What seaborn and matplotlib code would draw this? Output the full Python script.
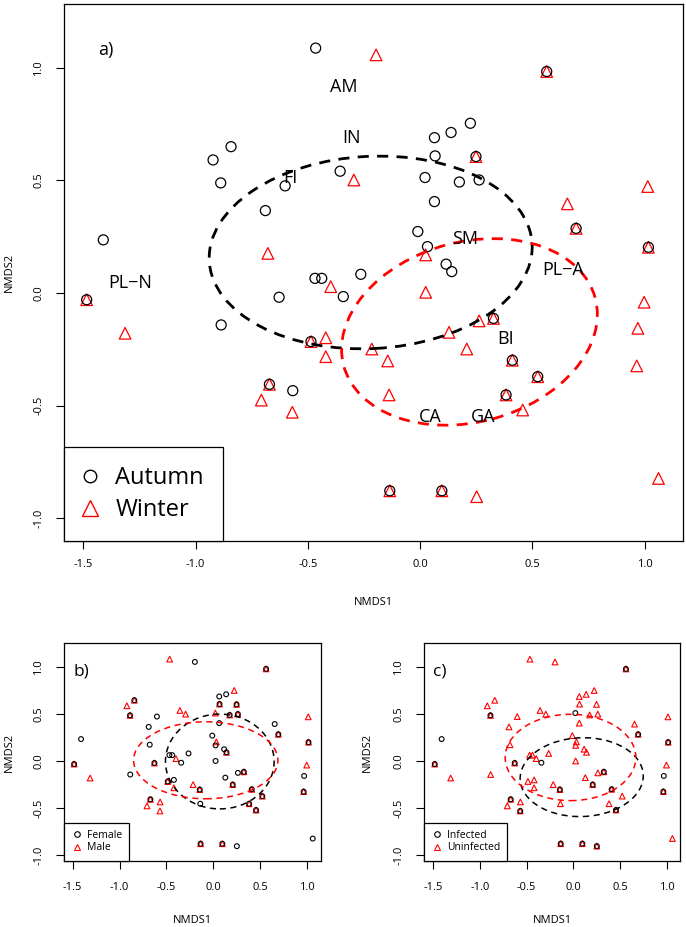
import numpy as np
import pandas as pd
import matplotlib
matplotlib.use("Agg")
import matplotlib.pyplot as plt
from matplotlib.patches import Ellipse
from matplotlib.lines import Line2D
import seaborn as sns

# NMDS site scores, one entry per individual
nmds1 = [-0.465, -0.196, 0.564, 0.224, 0.138, 0.064, -0.842, -0.922, 0.067, 0.249,
         -0.356, 0.022, -0.295, 0.175, 0.263, -0.888, -0.601, 1.014, 0.064, 0.656,
         -0.689, 0.695, -0.010, -1.411, 1.017, 0.033, -0.678, 0.025, 0.116, 0.141,
         -0.264, -0.468, -0.438, -0.398, 0.025, -1.485, -0.628, -0.342, 0.998, 0.327,
         0.263, -0.886, 0.970, 0.129, -1.314, -0.420, -0.486, -0.215, 0.208, -0.420,
         -0.144, 0.411, 0.965, 0.524, -0.671, -0.567, -0.138, 0.383, -0.707, 0.457,
         -0.569, 1.062, -0.135, 0.097, 0.252]
nmds2 = [1.088, 1.058, 0.984, 0.754, 0.713, 0.690, 0.650, 0.591, 0.609, 0.606,
         0.541, 0.513, 0.502, 0.493, 0.502, 0.489, 0.476, 0.473, 0.406, 0.396,
         0.366, 0.287, 0.273, 0.236, 0.203, 0.206, 0.176, 0.169, 0.128, 0.095,
         0.083, 0.065, 0.065, 0.028, 0.003, -0.030, -0.019, -0.016, -0.041, -0.113,
         -0.124, -0.142, -0.157, -0.175, -0.179, -0.199, -0.216, -0.249, -0.249, -0.283,
         -0.302, -0.299, -0.324, -0.372, -0.406, -0.434, -0.453, -0.453, -0.476, -0.520,
         -0.530, -0.824, -0.879, -0.879, -0.905]

# group codes per panel ("AW" etc. = both symbols drawn at that spot)
season = ["A", "W", "AW", "A", "A", "A", "A", "A", "A", "AW",
          "A", "A", "W", "A", "A", "A", "A", "W", "A", "W",
          "A", "AW", "A", "A", "AW", "A", "W", "W", "A", "A",
          "A", "A", "A", "W", "W", "AW", "A", "A", "W", "AW",
          "W", "A", "W", "W", "W", "W", "AW", "W", "W", "W",
          "W", "AW", "W", "AW", "AW", "A", "W", "AW", "W", "W",
          "W", "W", "AW", "AW", "W"]
sex = ["M", "F", "FM", "M", "F", "F", "FM", "M", "FM", "FM",
       "M", "M", "M", "FM", "FM", "FM", "F", "M", "F", "F",
       "F", "FM", "F", "F", "FM", "M", "F", "F", "F", "FM",
       "F", "F", "F", "M", "F", "FM", "FM", "F", "M", "FM",
       "F", "F", "F", "F", "M", "F", "FM", "M", "FM", "M",
       "FM", "FM", "FM", "FM", "FM", "M", "F", "FM", "M", "FM",
       "M", "F", "FM", "FM", "F"]
infection = ["U", "U", "IU", "U", "U", "U", "U", "U", "U", "U",
             "U", "I", "U", "U", "U", "IU", "U", "U", "U", "U",
             "U", "IU", "U", "I", "IU", "U", "U", "U", "U", "U",
             "U", "U", "U", "U", "U", "IU", "IU", "I", "U", "IU",
             "U", "U", "I", "U", "U", "U", "U", "U", "IU", "U",
             "IU", "IU", "IU", "U", "IU", "U", "U", "U", "U", "IU",
             "IU", "U", "IU", "IU", "IU"]

# site labels in panel a
site_names = ["AM", "IN", "FI", "PL\u2212N", "SM", "PL\u2212A", "BI", "CA", "GA"]
site_x = [-0.342, -0.307, -0.576, -1.289, 0.200, 0.636, 0.379, 0.045, 0.279]
site_y = [0.914, 0.690, 0.510, 0.046, 0.240, 0.102, -0.204, -0.553, -0.550]

# dispersion ellipses: centre x, centre y, width, height, angle
ell_season = {"A": (-0.22, 0.18, 1.44, 0.854, 3), "W": (0.22, -0.173, 1.16, 0.80, 15)}
ell_sex = {"F": (0.07, -0.003, 1.16, 1.01, 0), "M": (-0.08, 0.01, 1.54, 0.82, 0)}
ell_inf = {"I": (0.09, -0.17, 1.32, 0.84, 2), "U": (-0.03, 0.04, 1.40, 0.92, 0)}

df = pd.DataFrame({"nmds1": nmds1, "nmds2": nmds2, "season": season,
                   "sex": sex, "infection": infection})

sns.set_style("ticks")
plt.rcParams["font.family"] = ["Open Sans", "DejaVu Sans"]
plt.rcParams.update({"text.color": "black", "axes.labelcolor": "black",
                     "xtick.color": "black", "ytick.color": "black",
                     "axes.edgecolor": "black"})

fig = plt.figure(figsize=(6.86, 9.27), dpi=100)
ax_a = fig.add_axes([0.0933, 0.4164, 0.9023, 0.5793])
ax_b = fig.add_axes([0.0937, 0.0715, 0.3742, 0.2345])
ax_c = fig.add_axes([0.6185, 0.0715, 0.3727, 0.2345])


def draw_panel(ax, col, first, second, ells, s_o, s_t, lw_pt, lw_ell, dash):
    tri = df[df[col].str.contains(second)]
    circ = df[df[col].str.contains(first)]
    sns.scatterplot(data=tri, x="nmds1", y="nmds2", marker="^", s=s_t,
                    facecolor="none", edgecolor="red", linewidth=lw_pt,
                    ax=ax, legend=False, zorder=3)
    sns.scatterplot(data=circ, x="nmds1", y="nmds2", marker="o", s=s_o,
                    facecolor="none", edgecolor="black", linewidth=lw_pt,
                    ax=ax, legend=False, zorder=4)
    for key, c in [(first, "black"), (second, "red")]:
        cx, cy, w, h, ang = ells[key]
        ax.add_patch(Ellipse((cx, cy), w, h, angle=ang, fill=False, ec=c,
                             lw=lw_ell, ls=(0, dash), zorder=5))


def style_axes(ax, xlim, ylim, xpad, xlab_y, ylab_x):
    ax.set_xlim(*xlim)
    ax.set_ylim(*ylim)
    ax.set_xticks([-1.5, -1.0, -0.5, 0.0, 0.5, 1.0])
    ax.set_yticks([-1.0, -0.5, 0.0, 0.5, 1.0])
    ax.xaxis.set_major_formatter(matplotlib.ticker.FormatStrFormatter("%.1f"))
    ax.yaxis.set_major_formatter(matplotlib.ticker.FormatStrFormatter("%.1f"))
    ax.tick_params(axis="both", direction="out", length=5.8, width=0.8,
                   labelsize=8, color="black", labelcolor="black")
    ax.tick_params(axis="x", pad=xpad)
    ax.tick_params(axis="y", pad=8.5, labelrotation=90)
    for lbl in ax.get_yticklabels():
        lbl.set_va("center")
    for sp in ax.spines.values():
        sp.set_visible(True)
        sp.set_linewidth(0.9)
        sp.set_color("black")
    ax.set_xlabel("NMDS1", fontsize=8)
    ax.set_ylabel("NMDS2", fontsize=8)
    ax.xaxis.set_label_coords(0.5, xlab_y)
    ax.yaxis.set_label_coords(ylab_x, 0.5)


def add_legend(ax, labels, fs, ms_o, ms_t, mew, **kw):
    h_o = Line2D([], [], ls="", marker="o", ms=ms_o, mfc="none", mec="black", mew=mew)
    h_t = Line2D([], [], ls="", marker="^", ms=ms_t, mfc="none", mec="red", mew=mew)
    leg = ax.legend([h_o, h_t], labels, loc="lower left", bbox_to_anchor=(0, 0),
                    borderaxespad=0, fontsize=fs, frameon=True, fancybox=False,
                    framealpha=1, edgecolor="black", **kw)
    leg.get_frame().set_linewidth(0.9)


# panel a: season
draw_panel(ax_a, "season", "A", "W", ell_season, 52, 70, 0.9, 2.0, (4, 3))
style_axes(ax_a, (-1.586, 1.171), (-1.102, 1.284), 7.5, -0.104, -0.079)
for name, tx, ty in zip(site_names, site_x, site_y):
    ax_a.text(tx, ty, name, fontsize=13, ha="center", va="center", zorder=6)
ax_a.text(0.055, 0.914, "a)", transform=ax_a.transAxes, fontsize=13,
          ha="left", va="center")
add_legend(ax_a, ["Autumn", "Winter"], 17, 9, 11, 1.0,
           handlelength=0.6, handletextpad=0.77, borderpad=0.8, labelspacing=0.35)

# panel b: sex
draw_panel(ax_b, "sex", "F", "M", ell_sex, 12, 17, 0.8, 1.1, (4, 3))
style_axes(ax_b, (-1.59, 1.15), (-1.06, 1.256), 9.5, -0.25, -0.192)
ax_b.text(0.034, 0.87, "b)", transform=ax_b.transAxes, fontsize=12.5,
          ha="left", va="center")
add_legend(ax_b, ["Female", "Male"], 7.5, 4, 4.5, 0.8,
           handlelength=1.0, handletextpad=0.45, borderpad=0.7, labelspacing=0.15)

# panel c: infection
draw_panel(ax_c, "infection", "I", "U", ell_inf, 12, 17, 0.8, 1.1, (4, 3))
style_axes(ax_c, (-1.597, 1.143), (-1.061, 1.257), 9.5, -0.25, -0.2)
ax_c.text(0.033, 0.87, "c)", transform=ax_c.transAxes, fontsize=12.5,
          ha="left", va="center")
add_legend(ax_c, ["Infected", "Uninfected"], 7.5, 4, 4.5, 0.8,
           handlelength=1.0, handletextpad=0.45, borderpad=0.7, labelspacing=0.15)

fig.savefig("out.png", dpi=100)
